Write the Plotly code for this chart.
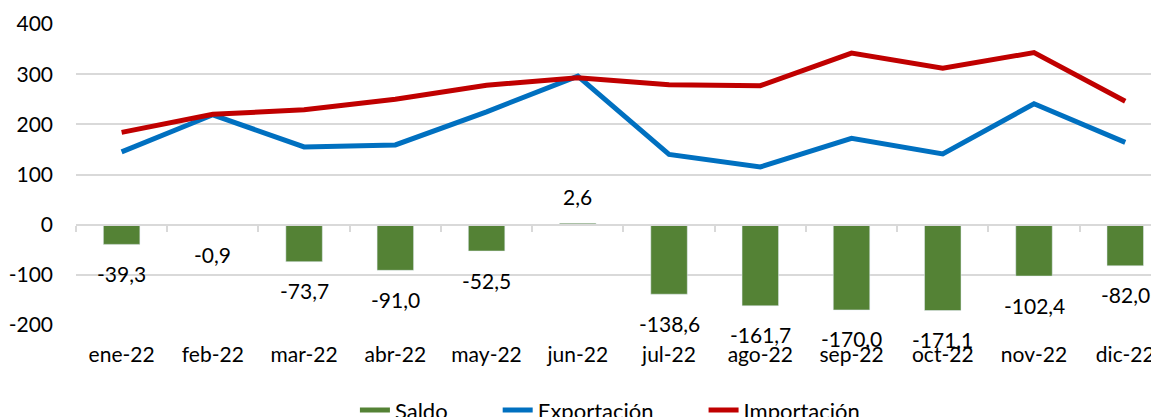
import plotly.graph_objects as go

categories = ["ene-22", "feb-22", "mar-22", "abr-22", "may-22", "jun-22",
              "jul-22", "ago-22", "sep-22", "oct-22", "nov-22", "dic-22"]
saldo = [-39.3, -0.9, -73.7, -91.0, -52.5, 2.6, -138.6, -161.7, -170.0, -171.1, -102.4, -82.0]
exportacion = [145, 219, 155, 159, 225, 296, 140, 115, 172, 141, 241, 164]
importacion = [184, 220, 229, 250, 278, 293, 279, 277, 342, 312, 343, 246]
y_ticks = [-200, -100, 0, 100, 200, 300, 400]
y_tick_labels = ["-200", "-100", "0", "100", "200", "300", "400"]

FONT = "Lato"
FS = 21
GREEN = "#548235"
BLUE = "#0070C0"
RED = "#C00000"
GRID = "#D9D9D9"
NB = "\u00a0"

fig = go.Figure()
fig.add_trace(go.Bar(x=categories, y=saldo, name="Saldo", marker_color=GREEN,
                     width=0.4, xaxis="x2", showlegend=False))
# legend entry for the bars (wide swatch like the reference)
fig.add_trace(go.Scatter(x=[None], y=[None], name="Saldo" + NB * 8, mode="lines",
                         line=dict(color=GREEN, width=13)))
fig.add_trace(go.Scatter(x=categories, y=exportacion, name="Exportación" + NB * 8, mode="lines",
                         line=dict(color=BLUE, width=5)))
fig.add_trace(go.Scatter(x=categories, y=importacion, name="Importación", mode="lines",
                         line=dict(color=RED, width=5)))

for c, v in zip(categories, saldo):
    fig.add_annotation(x=c, y=v, xref="x", yref="y",
                       text=f"{v:.1f}".replace(".", ","), showarrow=False,
                       yshift=27 if v > 0 else -29,
                       font=dict(family=FONT, size=FS, color="#000000"))

xr = [-0.5, 11.37]
fig.update_layout(
    width=1151, height=409,
    margin=dict(l=68, r=0, t=16, b=92, autoexpand=False),
    paper_bgcolor="white", plot_bgcolor="white",
    font=dict(family=FONT, size=FS, color="#000000"),
    showlegend=True,
    legend=dict(orientation="h", x=0.493, xanchor="center", y=-0.283, yanchor="middle",
                font=dict(family=FONT, size=22), traceorder="normal",
                itemsizing="constant"),
    xaxis=dict(type="category", categoryorder="array", categoryarray=categories,
               range=xr, showgrid=False, showline=False, ticks="", zeroline=False,
               automargin=False,
               ticklabelstandoff=15, tickfont=dict(family=FONT, size=FS)),
    xaxis2=dict(type="category", categoryorder="array", categoryarray=categories,
                overlaying="x", anchor="free", position=1/3, side="bottom",
                range=xr, showgrid=False, showline=True, linecolor=GRID, linewidth=2,
                ticks="outside", tickson="boundaries", ticklen=6, tickcolor=GRID,
                tickwidth=2, showticklabels=False, zeroline=False, automargin=False),
    yaxis=dict(range=[-200, 400], tickvals=y_ticks, ticktext=y_tick_labels,
               showgrid=True, gridcolor=GRID,
               gridwidth=2, zeroline=False, showline=False, ticks="", automargin=False,
               ticklabelstandoff=22, tickfont=dict(family=FONT, size=FS)),
)

fig.write_html("out.html")
